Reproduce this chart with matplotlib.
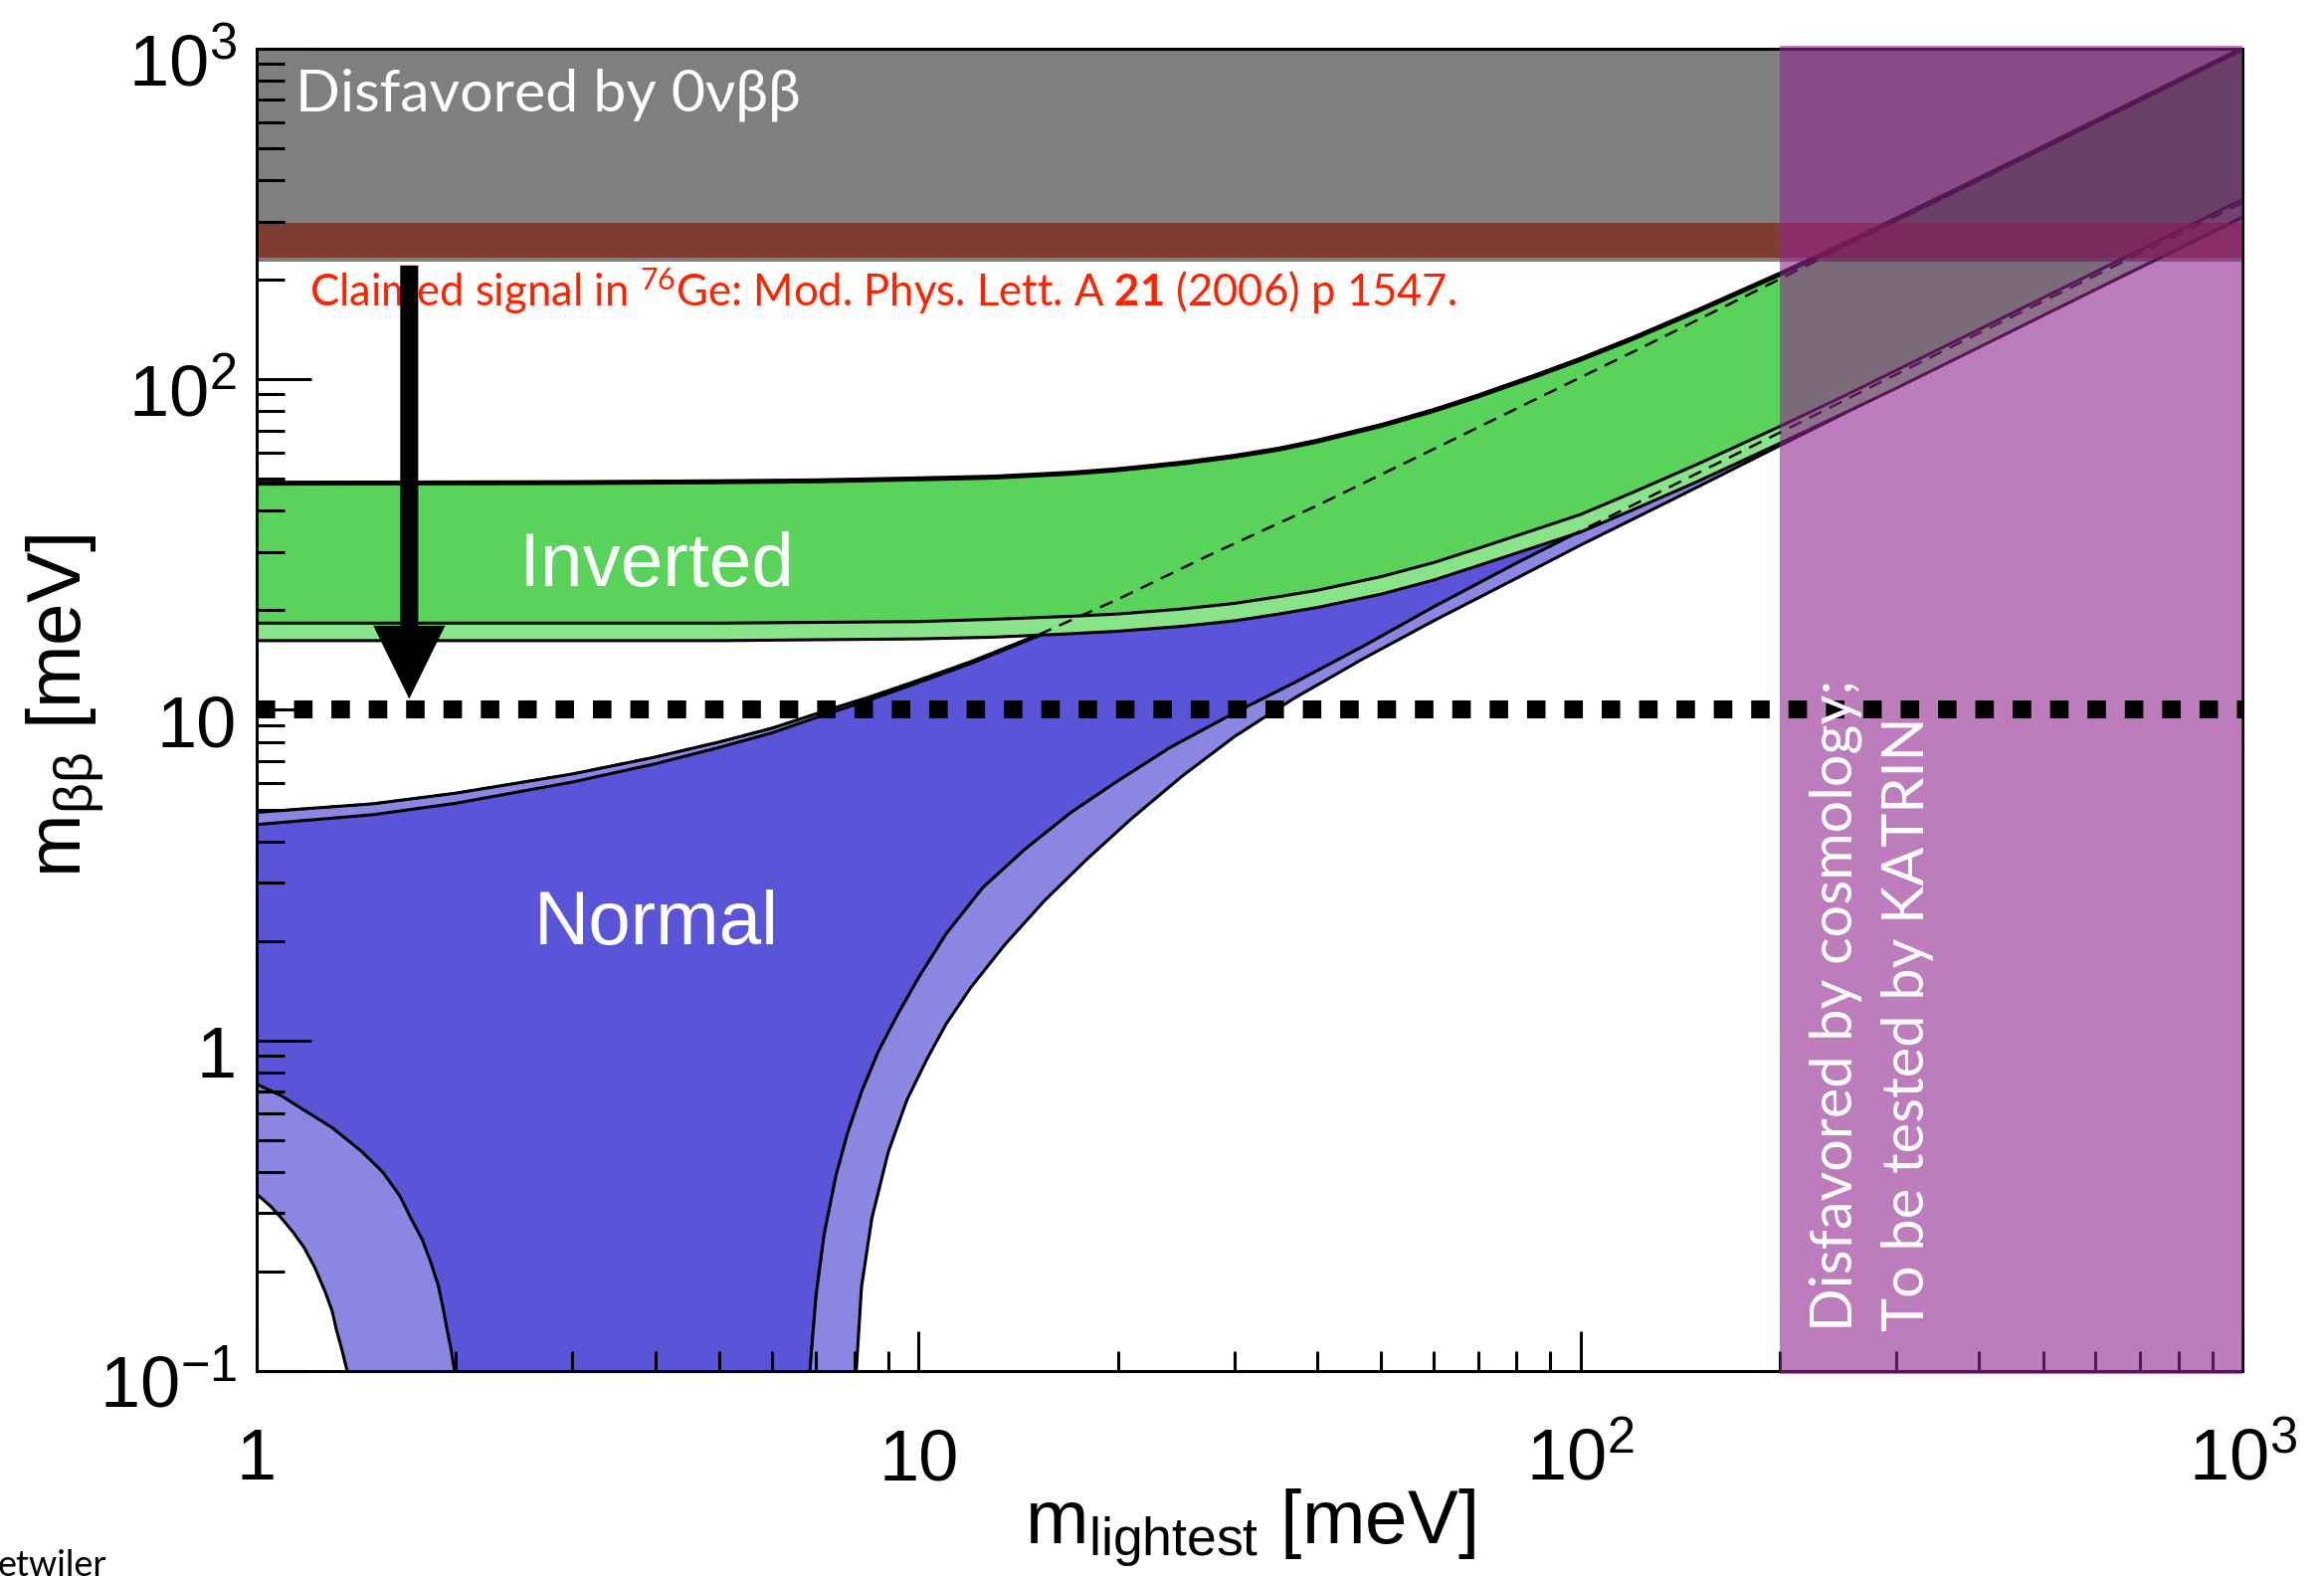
import numpy as np
import matplotlib
matplotlib.use('Agg')
import matplotlib.pyplot as plt
from matplotlib import transforms as mtransforms
from matplotlib.ticker import LogLocator, NullFormatter

plt.rcParams['font.family'] = ['Liberation Sans', 'DejaVu Sans']
plt.rcParams['mathtext.fontset'] = 'custom'
plt.rcParams['mathtext.rm'] = 'Liberation Sans'
plt.rcParams['mathtext.it'] = 'Liberation Sans:italic'
plt.rcParams['mathtext.bf'] = 'Lato:bold'
plt.rcParams['mathtext.default'] = 'regular'

GILL = ['Lato', 'DejaVu Sans']

# ---- values (meV) ----
# inverted ordering band
ih_x = [1, 2, 3, 5, 7, 10, 13, 17, 20, 25, 30, 35, 40, 50, 60, 70, 85, 100, 120, 150,
        200, 250, 300, 400, 500, 700, 1000]
ih_upper = [48.5, 48.6, 48.7, 49, 49.3, 50, 50.6, 52, 53.3, 55.8, 58.5, 61.5, 65, 72.5, 80.5,
            89, 102, 115, 133, 161, 208, 256, 305, 404, 503, 702, 1000]
ih_lower = [18.3, 18.3, 18.3, 18.3, 18.4, 18.5, 18.8, 19.2, 19.5, 20.2, 21.0, 22.0, 23.0, 25.3,
            27.9, 30.8, 35.0, 39.0, 45.5, 55.3, 72, 89, 106.5, 141.5, 176.5, 246, 350]
ih_lower_3s = [16.2, 16.2, 16.2, 16.2, 16.3, 16.4, 16.6, 17.0, 17.3, 17.9, 18.6, 19.5, 20.4, 22.4,
               24.7, 27.3, 31.0, 34.5, 40.3, 49, 64, 79, 94, 125, 156, 218, 310]

# normal ordering, upper edge
no_up_x = [1, 1.5, 2, 3, 4, 5, 6, 7.3, 8.5, 10, 12, 15.3, 20, 27.6, 40, 58.5, 85, 124, 200, 400, 1000]
no_upper_3s = [4.9, 5.2, 5.6, 6.4, 7.2, 8.0, 8.8, 10.0, 11.0, 12.3, 14.0, 17.0, 21.6, 29.5, 41.5,
               60, 86.5, 125, 201, 400, 1000]
no_upper = [4.5, 4.82, 5.22, 6.05, 6.87, 7.7, 8.52, 9.75, 10.78, 12.1, 13.82, 16.85, 21.45, 29.35,
            41.35, 59.85, 86.35, 124.85, 200.8, 399.8, 999.5]

# normal ordering, lower edge (right branch)
no_low_x = [6.85, 7.0, 7.2, 7.5, 7.8, 8.2, 8.7, 9.3, 10, 11, 12.5, 14.5, 17, 20, 24, 30, 37, 47,
            60, 80, 100, 140, 200, 400, 1000]
no_lower = [0.1, 0.17, 0.26, 0.39, 0.52, 0.70, 0.93, 1.2, 1.55, 2.1, 2.9, 3.8, 4.9, 6.1, 7.7, 9.8,
            12.1, 15.6, 20.5, 27.8, 34.8, 48.5, 69, 138, 342]
no_low3_x = [8.05, 8.2, 8.5, 9.0, 9.6, 10.3, 11, 12, 13.5, 15.5, 18, 21, 25, 30, 36.8, 47, 60, 80,
             100, 140, 200, 400, 1000]
no_lower_3s = [0.1, 0.18, 0.29, 0.46, 0.66, 0.88, 1.12, 1.45, 1.95, 2.65, 3.55, 4.7, 6.3, 8.3,
               10.8, 14.3, 18.6, 25.0, 31.5, 44, 63, 126, 308]

# cancellation corner at small m_lightest
canc_x = [1, 1.09, 1.18, 1.3, 1.44, 1.55, 1.645, 1.71, 1.78, 1.83, 1.88, 1.91, 1.94, 1.965, 1.99]
canc_y = [0.738, 0.68, 0.615, 0.545, 0.462, 0.40, 0.339, 0.29, 0.249, 0.215, 0.182, 0.157, 0.133,
          0.117, 0.1]
canc3_x = [1, 1.05, 1.09, 1.135, 1.18, 1.225, 1.27, 1.30, 1.32, 1.345, 1.37]
canc3_y = [0.343, 0.315, 0.29, 0.263, 0.236, 0.205, 0.173, 0.152, 0.133, 0.116, 0.1]

# bands and markers
dbd_band = (227, 1000)      # disfavored by 0vbb
claim_band = (233, 297)     # claimed 76Ge signal
cosmo_band = (200, 1000)    # cosmology / KATRIN
goal = 10
arrow_x = 1.7
arrow_from, arrow_to = 221, 10.8

x_ticks = [1, 10, 100, 1000]
x_tick_labels = ['1', '10', '$10^{2}$', '$10^{3}$']
y_ticks = [0.1, 1, 10, 100, 1000]
y_tick_labels = ['$10^{-1}$', '1', '10', '$10^{2}$', '$10^{3}$']

# colours
DGREEN, LGREEN = '#59d359', '#89e389'
DBLUE, LBLUE = '#5a55d8', '#8a86e2'

fig = plt.figure(figsize=(23.36, 15.86), dpi=100)
ax = fig.add_axes([0.11045, 0.13115, 0.85445, 0.83796])
ax.set_xscale('log')
ax.set_yscale('log')
ax.set_xlim(1, 1000)
ax.set_ylim(0.1, 1000)

# normal ordering fills
lb_x = np.concatenate([no_up_x, no_low3_x[::-1], canc3_x[::-1]])
lb_y = np.concatenate([no_upper_3s, no_lower_3s[::-1], canc3_y[::-1]])
ax.fill(lb_x, lb_y, color=LBLUE, lw=0, zorder=1.0)
db_x = np.concatenate([no_up_x, no_low_x[::-1], canc_x[::-1]])
db_y = np.concatenate([no_upper, no_lower[::-1], canc_y[::-1]])
ax.fill(db_x, db_y, color=DBLUE, lw=0, zorder=1.01)
for xs, ys in [(no_up_x, no_upper_3s), (no_up_x, no_upper), (no_low_x, no_lower),
               (no_low3_x, no_lower_3s), (canc_x, canc_y), (canc3_x, canc3_y)]:
    ax.plot(xs, ys, color='k', lw=2.2, zorder=1.05)

# inverted ordering fills
ax.fill(np.concatenate([ih_x, ih_x[::-1]]), np.concatenate([ih_upper, ih_lower_3s[::-1]]),
        color=LGREEN, lw=0, zorder=1.1)
ax.fill(np.concatenate([ih_x, ih_x[::-1]]), np.concatenate([ih_upper, ih_lower[::-1]]),
        color=DGREEN, lw=0, zorder=1.11)
ax.plot(ih_x, ih_upper, color='k', lw=3.6, zorder=1.15)
ax.plot(ih_x, ih_lower, color='k', lw=2.2, zorder=1.15)
ax.plot(ih_x, ih_lower_3s, color='k', lw=2.2, zorder=1.15)

# normal ordering edges seen through the inverted band
ax.plot(no_up_x, no_upper_3s, color='k', lw=1.8, ls=(0, (5.5, 3.5)), zorder=1.2)
ax.plot(no_low_x, no_lower, color='k', lw=1.8, ls=(0, (5.5, 3.5)), zorder=1.2)

# excluded bands
ax.axhspan(*dbd_band, color='k', alpha=0.5, lw=0, zorder=1.3)
ax.axhspan(*claim_band, color=(126 / 255, 16 / 255, 0), alpha=0.6, lw=0, zorder=1.35)
ax.axvspan(*cosmo_band, ymin=-0.002, ymax=1.002, color=(146 / 255, 37 / 255, 142 / 255),
           alpha=0.6, lw=0, zorder=3, clip_on=False)

ax.axhline(goal, color='k', lw=13, ls=(0, (1.03, 1.05)), dash_capstyle='butt', zorder=4)

ax.annotate('', xy=(arrow_x, arrow_to), xytext=(arrow_x, arrow_from),
            arrowprops=dict(arrowstyle='simple,head_length=53,head_width=52,tail_width=13',
                            mutation_scale=1, fc='k', ec='none', shrinkA=0, shrinkB=0),
            zorder=5)

# texts
ax.text(0.0195, 0.9526, 'Disfavored by 0νββ', transform=ax.transAxes, ha='left', va='baseline',
        fontsize=42.5, color='white', family=GILL, zorder=2)
ax.text(0.0266, 0.805, r'Claimed signal in $^{76}$Ge: Mod. Phys. Lett. A $\mathbf{21}$ (2006) p 1547.',
        transform=ax.transAxes, ha='left', va='baseline', fontsize=31.4, color='#ff2200',
        family=GILL, zorder=2)
ax.text(0.2014, 0.5937, 'Inverted', transform=ax.transAxes, ha='center', va='baseline',
        fontsize=55, color='white', zorder=5)
ax.text(0.2014, 0.3228, 'Normal', transform=ax.transAxes, ha='center', va='baseline',
        fontsize=55, color='white', zorder=5)
ax.text(0.8036, 0.030, 'Disfavored by cosmology;', transform=ax.transAxes, rotation=90,
        rotation_mode='anchor', ha='left', va='baseline', fontsize=41.5, color='white',
        family=GILL, zorder=5)
ax.text(0.8397, 0.030, 'To be tested by KATRIN', transform=ax.transAxes, rotation=90,
        rotation_mode='anchor', ha='left', va='baseline', fontsize=41.5, color='white',
        family=GILL, zorder=5)
fig.text(-0.001, 2 / 1586, 'etwiler', ha='left', va='baseline', fontsize=26, family=GILL)

# axes styling
for sp in ax.spines.values():
    sp.set_linewidth(2.2)
ax.set_xticks(x_ticks, labels=x_tick_labels)
ax.set_yticks(y_ticks, labels=y_tick_labels)
ax.xaxis.set_minor_locator(LogLocator(base=10, subs=np.arange(2, 10), numticks=50))
ax.yaxis.set_minor_locator(LogLocator(base=10, subs=np.arange(2, 10), numticks=50))
ax.xaxis.set_minor_formatter(NullFormatter())
ax.yaxis.set_minor_formatter(NullFormatter())
ax.tick_params(which='both', direction='in', top=False, right=False, width=2.2, labelsize=52)
ax.tick_params(axis='y', which='major', length=39.6, pad=14.4)
ax.tick_params(axis='y', which='minor', length=20)
ax.tick_params(axis='x', which='major', length=28.8, pad=78.5)
ax.tick_params(axis='x', which='minor', length=14.4)

for lbl in ax.get_xticklabels():
    lbl.set_va('baseline')
shift = mtransforms.ScaledTranslation(0, -26.6 / 72, fig.dpi_scale_trans)
for lbl in ax.get_yticklabels():
    lbl.set_va('baseline')
    lbl.set_transform(lbl.get_transform() + shift)

ax.set_xlabel(r'm$_{\mathrm{lightest}}$ [meV]', fontsize=55)
ax.xaxis.label.set_va('baseline')
ax.xaxis.set_label_coords(0.5, -0.130)
ax.set_ylabel(r'm$_{\beta\beta}$ [meV]', fontsize=55)
ax.yaxis.label.set_va('baseline')
ax.yaxis.set_label_coords(-0.0887, 0.503)

fig.savefig('out.png', dpi=100)
